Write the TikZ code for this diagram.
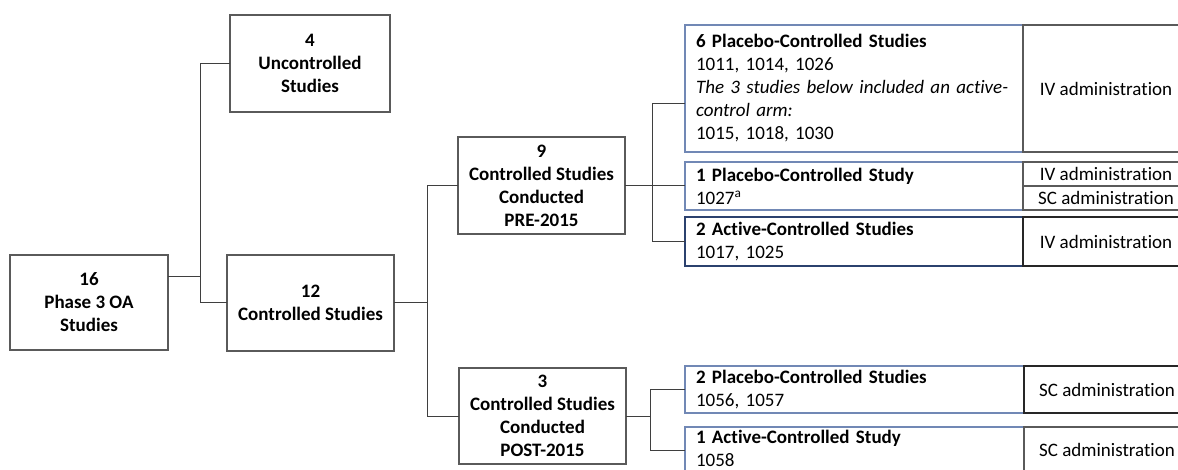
\documentclass[tikz,border=0pt]{standalone}
\usepackage{fontspec}
\setmainfont{Carlito}[Ligatures=NoCommon]
\definecolor{boxgray}{HTML}{5A5A5A}
\definecolor{bluegray}{HTML}{7188B5}
\definecolor{navyb}{HTML}{2B416E}
\definecolor{conngray}{HTML}{3F3F3F}
\newcommand\dfs{\fontsize{19}{23}\selectfont\frenchspacing}
\begin{document}
\begin{tikzpicture}[x=1pt,y=-1pt,
  box/.style={draw=boxgray, line width=1.1pt, anchor=north west, outer sep=0pt, inner sep=0pt, align=center, font=\dfs\bfseries},
  lbox/.style={draw=bluegray, line width=1.1pt, anchor=north west, outer sep=0pt, inner xsep=11pt, inner ysep=0pt, align=left, text width=#1, font=\dfs},
  rbox/.style={draw=boxgray, line width=1.1pt, anchor=north west, outer sep=0pt, inner sep=0pt, align=center, minimum width=166pt, font=\dfs},
  conn/.style={draw=conngray, line width=1pt}]
\useasboundingbox (0,0) rectangle (1178,470);
\clip (0,0) rectangle (1178,470);

% left column
\node[box, minimum width=158pt, minimum height=95pt] (A) at (10,255) {16\\Phase 3 OA\\Studies};
\node[box, minimum width=160pt, minimum height=97pt] (B) at (230,15) {4\\Uncontrolled\\Studies};
\node[box, minimum width=167pt, minimum height=96pt] (C) at (227,255) {12\\Controlled Studies};
\node[box, minimum width=167pt, minimum height=97pt] (D) at (458,137) {9\\Controlled Studies\\Conducted\\PRE-2015};
\node[box, minimum width=167pt, minimum height=96pt] (F) at (459,368) {3\\Controlled Studies\\Conducted\\POST-2015};

% study boxes
\node[lbox=316pt, minimum height=127pt] (E1) at (685,25) {\textbf{6 Placebo-Controlled Studies}\\1011, 1014, 1026\\\textit{The 3 studies below included an active-}\\\textit{control arm:}\\1015, 1018, 1030};
\node[lbox=316pt, minimum height=48pt] (E2) at (685,162) {\textbf{1 Placebo-Controlled Study}\\1027\textsuperscript{a}};
\node[lbox=316pt, minimum height=49pt, draw=navyb] (E3) at (685,217) {\textbf{2 Active-Controlled Studies}\\1017, 1025};
\node[lbox=317pt, minimum height=47pt] (G1) at (685,366) {\textbf{2 Placebo-Controlled Studies}\\1056, 1057};
\node[lbox=317pt, minimum height=43pt, draw=none] (G2) at (685,427) {\textbf{1 Active-Controlled Study}\\1058};
\draw[draw=bluegray, line width=1.1pt] ([yshift=-10pt]G2.south west) |- (G2.north east);

% administration boxes
\node[rbox, minimum height=127pt] (E1r) at (1023,25) {IV administration};
\node[rbox, minimum height=24pt] (E2a) at (1023,162) {IV administration};
\node[rbox, minimum height=24pt] (E2b) at (1023,186) {SC administration};
\node[rbox, minimum height=49pt, draw=black!85] (E3r) at (1023,217) {IV administration};
\node[rbox, minimum height=47pt, draw=black!85] (G1r) at (1024,366) {SC administration};
\node[rbox, minimum height=45pt, draw=none] (G2r) at (1024,427) {SC administration};
\draw[draw=boxgray, line width=1.1pt] ([yshift=-10pt]G2r.south west) |- (G2r.north east) -- ([yshift=-10pt]G2r.south east);

% connectors
\draw[conn] ([yshift=25.5pt]A.east) -- ++(32,0);
\draw[conn] (B.west) -- ++(-30,0) |- (C.west);
\draw[conn] (C.east) -- ++(33,0);
\draw[conn] (D.west) -- ++(-31,0) |- (F.west);
\draw[conn] (D.east) -- (D.east -| E2.west);
\draw[conn] ([yshift=-15.5pt]E1.west) -- ++(-33,0) |- (E3.west);
\draw[conn] (F.east) -- ++(24,0);
\draw[conn] (G1.west) -- ++(-35,0) |- ([yshift=-2pt]G2.west);
\end{tikzpicture}
\end{document}
